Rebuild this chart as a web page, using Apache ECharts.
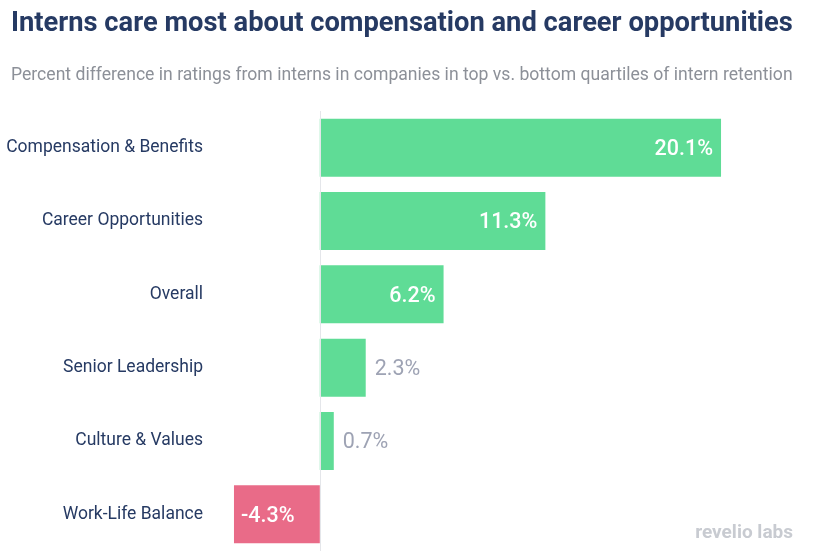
<!DOCTYPE html>
<html>
<head>
<meta charset="utf-8">
<script src="https://cdn.jsdelivr.net/npm/echarts@6/dist/echarts.min.js"></script>
<style>
  html, body { margin: 0; padding: 0; background: #fff; }
  #chart { width: 813px; height: 560px; }
</style>
</head>
<body>
<div id="chart"></div>
<script>
var categories = ['Compensation & Benefits', 'Career Opportunities', 'Overall', 'Senior Leadership', 'Culture & Values', 'Work-Life Balance']
var values = [20.1, 11.3, 6.2, 2.3, 0.7, -4.3]

var chart = echarts.init(document.getElementById('chart'))

// big bars get the label inside, small ones outside, negatives inside left
var barData = values.map(function (v) {
  var item = { value: v, itemStyle: { color: v < 0 ? '#e96b88' : '#5fdc96' } }
  if (v < 0) {
    item.label = { position: 'insideLeft', color: '#fff', distance: 7 }
  } else if (v >= 5) {
    item.label = { position: 'insideRight', color: '#fff', distance: 8 }
  } else {
    item.label = { position: 'right', color: '#9ea3b4', distance: 9, fontWeight: 'normal' }
  }
  return item
})

var option = {
  textStyle: { fontFamily: 'Roboto' },
  title: {
    text: 'Interns care most about compensation and career opportunities',
    subtext: 'Percent difference in ratings from interns in companies in top vs. bottom quartiles of intern retention',
    left: 6,
    top: 6,
    itemGap: 29,
    textStyle: { fontFamily: 'Roboto', fontSize: 27.3, fontWeight: 'bold', color: '#263a63' },
    subtextStyle: { fontFamily: 'Roboto', fontSize: 17.6, color: '#8c9098' }
  },
  grid: { left: 220, right: 74, top: 111, bottom: 9, containLabel: false },
  xAxis: {
    type: 'value',
    min: -5,
    max: 21,
    show: false
  },
  yAxis: {
    type: 'category',
    data: categories,
    inverse: true,
    axisLine: { show: false, onZero: false },
    axisTick: { show: false },
    axisLabel: { color: '#263a63', fontSize: 17.5, margin: 17, padding: [11, 0, 0, 0] }
  },
  series: [{
    type: 'bar',
    data: barData,
    barWidth: 58,
    label: {
      show: true,
      fontSize: 21.5,
      fontWeight: 500,
      offset: [0, 2],
      formatter: function (p) { return p.value.toFixed(1) + '%' }
    },
    markLine: {
      silent: true,
      symbol: 'none',
      label: { show: false },
      lineStyle: { color: '#e4e6ea', width: 1, type: 'solid' },
      data: [{ xAxis: 0 }]
    }
  }],
  graphic: [{
    type: 'text',
    right: 20,
    bottom: 17,
    style: { text: 'revelio labs', fontFamily: 'Roboto', fontSize: 19, fontWeight: 'bold', fill: '#c8cbd1' }
  }]
}

chart.setOption(option)
</script>
</body>
</html>
